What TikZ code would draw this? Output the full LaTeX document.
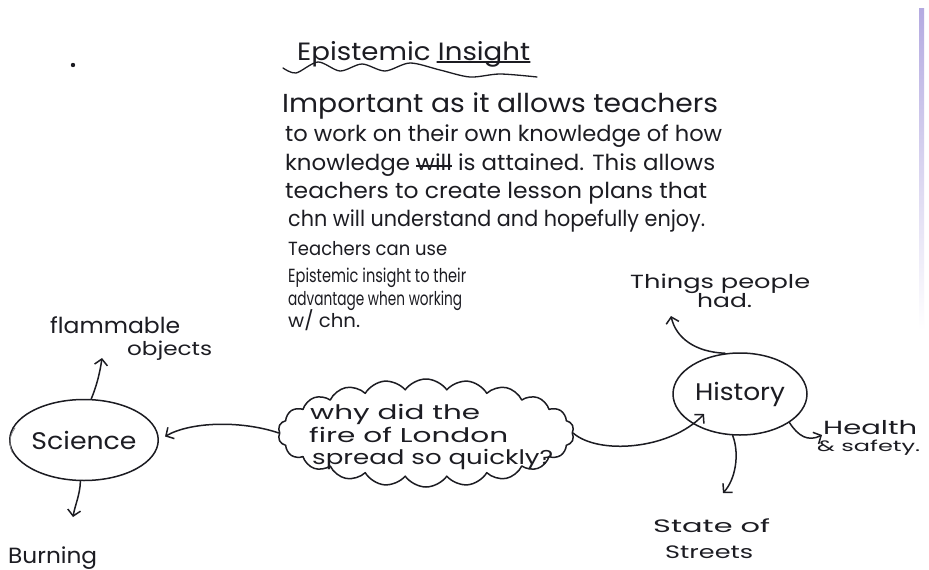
\documentclass[tikz,border=0pt]{standalone}
\usepackage{fontspec}
\setmainfont{Poppins}
\usepackage{graphicx}
\usetikzlibrary{shapes.geometric,shapes.symbols,arrows.meta}
\definecolor{ink}{RGB}{28,28,34}
\definecolor{lav}{RGB}{180,170,225}
\newcommand\hw[2]{\resizebox{#1pt}{\height}{#2}}
\newcommand\fs[1]{\fontsize{#1}{#1}\selectfont}
\newsavebox\strkbox
\newcommand\strk[1]{\sbox\strkbox{#1}\rlap{\raisebox{0.28ex}{\rule{\wd\strkbox}{1.6pt}}}\usebox\strkbox}
\begin{document}
\begin{tikzpicture}[x=1pt,y=-1pt,
  txt/.style={inner sep=0pt, anchor=base west, text=ink},
  pen/.style={draw=ink, line width=1.5pt, line cap=round, line join=round},
  arr/.style={pen, -{Straight Barb[length=6pt,width=13pt,line width=1.5pt]}},
  bubble/.style={ellipse, pen, inner sep=0pt, text=ink}]

\path[use as bounding box, fill=white] (0,0) rectangle (929,570);
\shade[top color=lav, bottom color=white] (919,8) rectangle (924,330);
\fill[ink] (73,65) circle (2.2pt);

% title
\node[txt] (title) at (297,60) {\fs{25}\hw{233}{Epistemic Insight}};
\draw[pen, line width=1.3pt] plot[smooth] coordinates {(283,68) (296,73) (318,62) (340,71) (362,64) (385,71) (410,63) (440,70) (470,77) (500,74) (537,77)};
\draw[pen, line width=1.3pt] (437,62) -- (530,62);

% paragraph
\node[txt] (p1) at (282,112) {\fs{26}\hw{436}{Important as it allows teachers}};
\node[txt] (p2) at (285,141) {\fs{22}\hw{437}{to work on their own knowledge of how}};
\node[txt] (p3) at (285,170) {\fs{22}\hw{430}{knowledge \strk{will} is attained. This allows}};
\node[txt] (p4) at (285,198) {\fs{22}\hw{422}{teachers to create lesson plans that}};
\node[txt] (p5) at (288,226) {\fs{22}\hw{417}{chn will understand and hopefully enjoy.}};
\node[txt] (p6) at (288,255) {\fs{19}\hw{159}{Teachers can use}};
\node[txt] (p7) at (288,282) {\fs{19}\hw{178}{Epistemic insight to their}};
\node[txt] (p8) at (288,305) {\fs{19}\hw{174}{advantage when working}};
\node[txt] (p9) at (288,327) {\fs{19}\hw{72}{w/ chn.}};

% central cloud
\node[cloud, pen, cloud puffs=22, cloud puff arc=110, aspect=3,
      minimum width=296pt, minimum height=108pt, inner sep=0pt] (q) at (426,433) {};
\node[txt] (c1) at (310,419) {\fs{20}\hw{170}{why did the}};
\node[txt] (c2) at (309,442) {\fs{20}\hw{199}{fire of London}};
\node[txt] (c3) at (312,464) {\fs{20}\hw{241}{spread so quickly?}};

% science side
\node[bubble, minimum width=142pt, minimum height=81pt] (sci) at (84,440) {\fs{24}\hw{105}{Science}};
\draw[ink!55, line width=0.8pt, line cap=round] (15,428) .. controls (9,436) and (9,444) .. (12,452);
\node[txt] (flam) at (50,333) {\fs{22}\hw{130}{flammable}};
\node[txt] (obj) at (127,355) {\fs{19}\hw{85}{objects}};
\node[txt] (burn) at (8,563) {\fs{22}\hw{89}{Burning}};

% history side
\node[bubble, minimum width=134pt, minimum height=82pt] (his) at (740,394) {\fs{24}\hw{90}{History}};
\node[txt] (th1) at (630,288) {\fs{19}\hw{180}{Things people}};
\node[txt] (th2) at (697,307) {\fs{19}\hw{55}{had.}};
\node[txt] (st1) at (653,532) {\fs{18}\hw{117}{State of}};
\node[txt] (st2) at (665,558) {\fs{18}\hw{88}{Streets}};
\node[txt] (he1) at (823,434) {\fs{19}\hw{94}{Health}};
\node[txt] (he2) at (817,451) {\fs{15}\hw{103}{\& safety.}};

% arrow tips
\coordinate (flamtip) at (102,358);
\coordinate (burntip) at (73,517);
\coordinate (thtip) at (671,316);
\coordinate (sttip) at (723,493);
\coordinate (hetip) at (822,435);
\coordinate (histip) at (704,414);

% connectors
\draw[arr] (sci.80) .. controls (97,385) and (100,372) .. (flamtip);
\draw[arr] (sci.265) .. controls (80,495) and (75,505) .. (burntip);
\draw[arr, shorten >=7pt] (q.west) .. controls (240,420) and (190,422) .. (sci.east);
\draw[arr] (q.east) .. controls (598,455) and (670,450) .. (histip);
\draw[arr] (his.110) .. controls (695,352) and (676,338) .. (thtip);
\draw[arr] (his.260) .. controls (740,455) and (735,480) .. (sttip);
\draw[arr] (his.-30) .. controls (798,436) and (808,442) .. (hetip);
\end{tikzpicture}
\end{document}
